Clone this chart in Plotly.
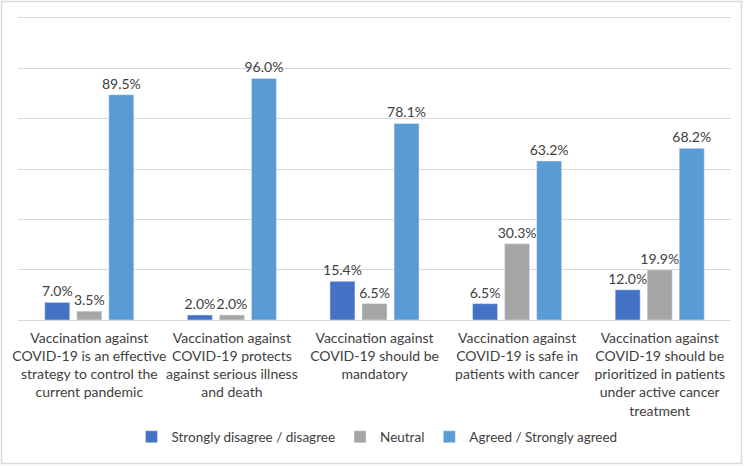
import plotly.graph_objects as go

categories = [
    "Vaccination against<br>COVID-19 is an effective<br>strategy to control the<br>current pandemic",
    "Vaccination against<br>COVID-19 protects<br>against serious illness<br>and death",
    "Vaccination against<br>COVID-19 should be<br>mandatory",
    "Vaccination against<br>COVID-19 is safe in<br>patients with cancer",
    "Vaccination against<br>COVID-19 should be<br>prioritized in patients<br>under active cancer<br>treatment",
]
series_names = ["Strongly disagree / disagree", "Neutral", "Agreed / Strongly agreed"]
disagree = [7.0, 2.0, 15.4, 6.5, 12.0]
neutral = [3.5, 2.0, 6.5, 30.3, 19.9]
agreed = [89.5, 96.0, 78.1, 63.2, 68.2]
colors = ["#4472C4", "#A5A5A5", "#5B9BD5"]

FONT = "Lato, Open Sans, sans-serif"

fig = go.Figure()
for name, vals, c in zip(series_names, [disagree, neutral, agreed], colors):
    fig.add_trace(go.Bar(
        x=categories, y=vals, name=name, marker_color=c,
        text=[f"{v:.1f}%" for v in vals], textposition="outside",
        constraintext="none",
        textfont=dict(family=FONT, size=14, color="#404040"), cliponaxis=False,
    ))

W, H = 749, 466
ml, mr, mt, mb = 18, 18, 18, 146
pw, ph = W - ml - mr, H - mt - mb

fig.update_layout(
    width=W, height=H,
    margin=dict(l=ml, r=mr, t=mt, b=mb, pad=0, autoexpand=False),
    paper_bgcolor="white", plot_bgcolor="white",
    font=dict(family=FONT, size=14, color="#404040"),
    barmode="group", bargap=0.326, bargroupgap=0.22,
    showlegend=True,
    legend=dict(orientation="h", x=(377 - ml) / pw, xanchor="center", yref="container",
                y=1 - 437 / H, yanchor="middle",
                font=dict(family=FONT, size=13.5, color="#404040"), traceorder="normal",
                itemwidth=30),
    xaxis=dict(showgrid=False, ticks="", showline=True, mirror=True, linecolor="#D9D9D9", linewidth=1,
               tickangle=0, automargin=False, ticklabelstandoff=5,
               tickfont=dict(family=FONT, size=14, color="#404040")),
    yaxis=dict(range=[0, 120], dtick=20, showticklabels=False, showgrid=True,
               gridcolor="#D9D9D9", gridwidth=1, zeroline=False, showline=False, automargin=False),
    shapes=[dict(type="rect", xref="paper", yref="paper",
                 x0=(1.5 - ml) / pw, x1=(741.5 - ml) / pw,
                 y0=(H - mb - 463.5) / ph, y1=(H - mb - 1.5) / ph,
                 line=dict(color="#D9D9D9", width=1.5), fillcolor="rgba(0,0,0,0)")],
)
fig.write_html("out.html", config={"displayModeBar": False},
               post_script="document.body.style.margin='0';")
